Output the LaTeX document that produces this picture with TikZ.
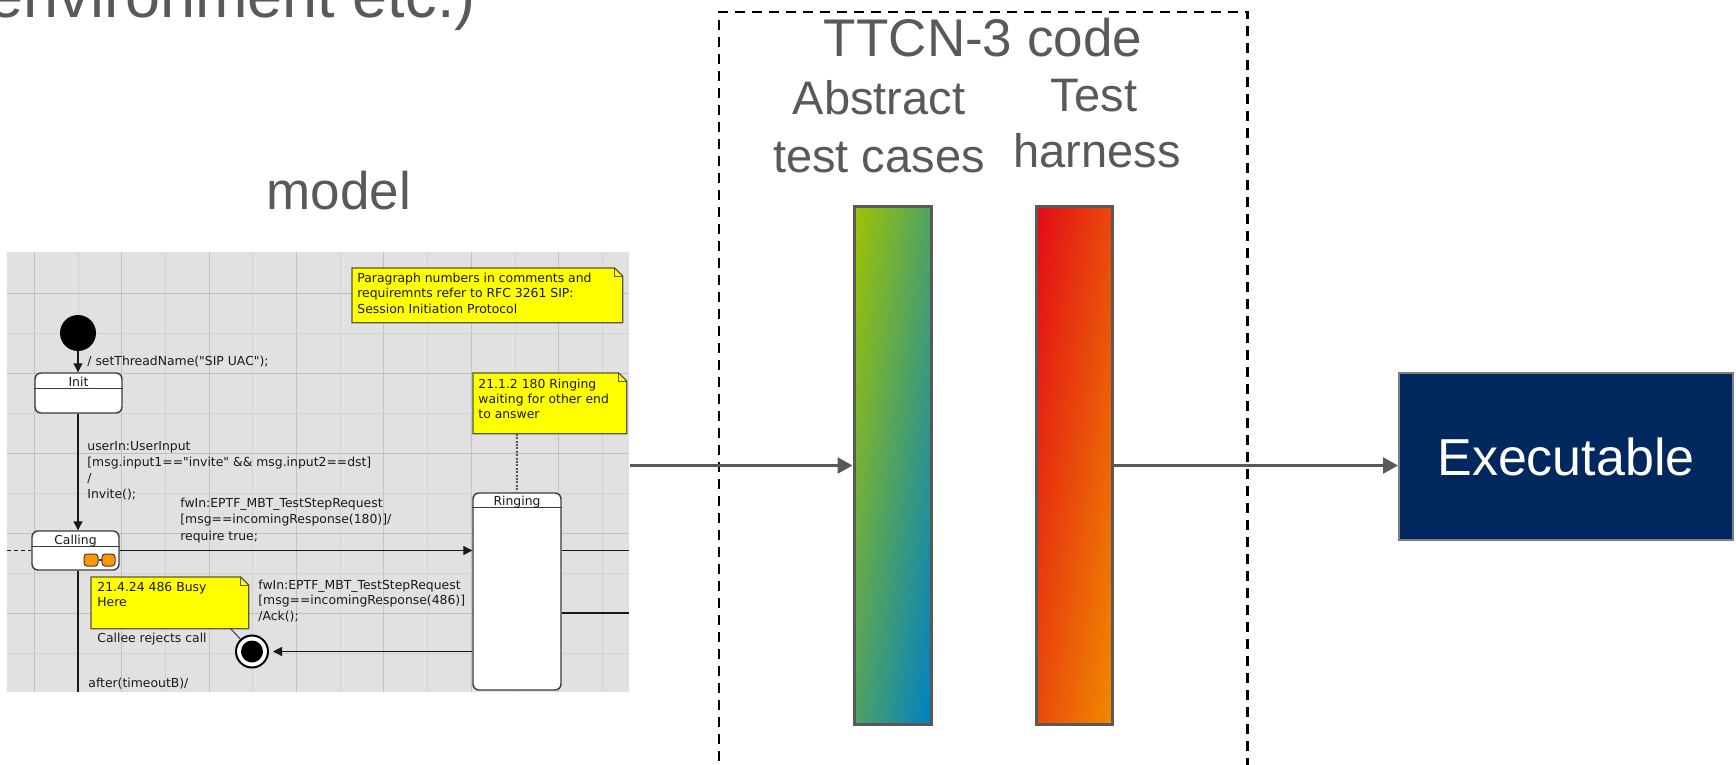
\documentclass[tikz,border=0pt]{standalone}
\usepackage{fontspec}
\setmainfont{Liberation Sans}
\newfontfamily\umlfont{DejaVu Sans}
\usetikzlibrary{arrows.meta}

\definecolor{txtgrey}{RGB}{89,89,89}
\definecolor{navy}{RGB}{0,40,94}
\definecolor{shotbg}{RGB}{225,225,225}
\definecolor{gridmaj}{RGB}{192,192,192}
\definecolor{gridmin}{RGB}{210,210,210}
\definecolor{noteyel}{RGB}{255,255,0}
\definecolor{noteedge}{RGB}{90,90,40}
\definecolor{umlink}{RGB}{25,25,25}
\definecolor{stateedge}{RGB}{60,60,60}
\definecolor{orangeicon}{RGB}{255,150,0}
\definecolor{atcA}{RGB}{160,196,0}
\definecolor{atcB}{RGB}{0,128,196}
\definecolor{thA}{RGB}{227,10,23}
\definecolor{thB}{RGB}{240,138,0}

% diagonal gradient (top-left -> bottom-right) built from thin horizontal bands
% #1,#2: left/right x, #3,#4: top/bottom y, #5,#6: start/end colours
\newcommand{\diagfill}[6]{%
  \foreach \i in {0,...,63}{%
    \pgfmathsetmacro\ya{#3+(#4-#3)/64*\i}%
    \pgfmathsetmacro\yb{#3+(#4-#3)/64*(\i+1)+0.8}%
    \pgfmathsetmacro\pl{100-50*(\i+0.5)/64}%
    \pgfmathsetmacro\pr{50-50*(\i+0.5)/64}%
    \shade[left color=#5!\pl!#6, right color=#5!\pr!#6] (#1,\ya) rectangle (#2,\yb);
  }%
}

\begin{document}
\begin{tikzpicture}[x=0.5pt,y=-0.5pt,
  slidetext/.style={text=txtgrey, inner sep=0pt},
  bigfont/.style={font=\fontsize{26.5}{31}\selectfont},
  labfont/.style={font=\fontsize{23.5}{28}\selectfont},
  umltxt/.style={font=\umlfont\fontsize{6.2}{7.75}\selectfont, text=umlink, inner sep=0pt, anchor=base west},
  umllabel/.style={font=\umlfont\fontsize{6.2}{7.75}\selectfont, text=umlink, inner sep=0pt, anchor=base},
  umlstate/.style={draw=stateedge, fill=white, line width=0.7pt, rounded corners=3pt, inner sep=0pt},
  umlline/.style={draw=umlink, line width=0.6pt},
  umlarrow/.style={umlline, -{Triangle[length=4.5pt,width=4.5pt]}},
  notearea/.style={inner sep=0pt, anchor=north west},
  noteshape/.style={fill=noteyel, draw=noteedge, line width=0.6pt},
  bigarrow/.style={draw=txtgrey, line width=1.35pt, -{Triangle[length=7.5pt,width=8pt]}},
  codebar/.style={draw=txtgrey, line width=1.5pt, inner sep=0pt, minimum width=38.5pt, minimum height=258.5pt}
]
\useasboundingbox (0,0) rectangle (1736,765);

% ---------- slide headings ----------
\node[slidetext, font=\fontsize{31.5}{36}\selectfont, anchor=base east] (envtxt) at (476,18) {environment etc.)};
\node[slidetext, bigfont, anchor=base] (modeltxt) at (339,209) {model};

% ---------- state machine screenshot ----------
\node[fill=shotbg, minimum width=311pt, minimum height=220pt, inner sep=0pt, anchor=north west] (shot) at (7,252) {};
\begin{scope}
  \clip (shot.north west) rectangle (shot.south east);
  \foreach \k in {0,...,13}{
    \ifodd\k \def\gc{gridmin}\else\def\gc{gridmaj}\fi
    \draw[\gc, line width=0.5pt] ({34.3+43.7*\k},252) -- ({34.3+43.7*\k},692);
  }
  \foreach \j in {0,...,9}{
    \ifodd\j \def\gc{gridmin}\else\def\gc{gridmaj}\fi
    \draw[\gc, line width=0.5pt] (7,{293+40*\j}) -- (629,{293+40*\j});
  }
\end{scope}

% notes with folded corner
\node[notearea, minimum width=135pt, minimum height=27pt] (note1) at (352,268) {};
\node[notearea, minimum width=76.5pt, minimum height=30pt] (note2) at (473,373) {};
\node[notearea, minimum width=78.5pt, minimum height=25.5pt] (note3) at (91,577) {};
\foreach \n in {note1,note2,note3}{
  \path[noteshape] (\n.north west) -- ([xshift=-4pt]\n.north east) -- ([yshift=-4pt]\n.north east)
     -- (\n.south east) -- (\n.south west) -- cycle;
  \draw[noteedge, line width=0.5pt] ([xshift=-4pt]\n.north east) -- ([xshift=-4pt,yshift=-4pt]\n.north east)
     -- ([yshift=-4pt]\n.north east);
}

% states
\node[circle, fill=black, minimum size=18pt, inner sep=0pt] (start) at (78,333) {};
\node[umlstate, minimum width=43.5pt, minimum height=20pt] (sInit) at (78.5,393) {};
\node[umlstate, minimum width=43.5pt, minimum height=19.5pt] (sCalling) at (75.5,550.5) {};
\node[umlstate, minimum width=44pt, minimum height=98.5pt] (sRinging) at (517,591.5) {};
\node[circle, draw=black, fill=white, line width=1pt, minimum size=16pt, inner sep=0pt] (final) at (252,651.5) {};
\node[circle, fill=black, minimum size=11pt, inner sep=0pt] (finalin) at (final.center) {};

% state headers
\draw[stateedge, line width=0.6pt] ([yshift=-8pt]sInit.north west) -- ([yshift=-8pt]sInit.north east);
\draw[stateedge, line width=0.6pt] ([yshift=-8pt]sCalling.north west) -- ([yshift=-8pt]sCalling.north east);
\draw[stateedge, line width=0.6pt] ([yshift=-7.5pt]sRinging.north west) -- ([yshift=-7.5pt]sRinging.north east);
\node[umllabel] (lInit) at (78.5,386.5) {Init};
\node[umllabel] (lCalling) at (75.5,544) {Calling};
\node[umllabel] (lRinging) at (517,505.5) {Ringing};

% sub-machine icon of Calling
\node[draw=stateedge, fill=orangeicon, line width=0.5pt, rounded corners=1.5pt, minimum width=7pt, minimum height=6pt, inner sep=0pt] (icoA) at (91,560) {};
\node[draw=stateedge, fill=orangeicon, line width=0.5pt, rounded corners=1.5pt, minimum width=6.5pt, minimum height=6pt, inner sep=0pt] (icoB) at (108.5,560) {};
\draw[stateedge, line width=0.6pt] (icoA) -- (icoB);

% transitions
\coordinate (leftin) at (7,550.5);
\coordinate (callbot) at (78,692);
\coordinate (rout1) at (629,550.5);
\coordinate (rout2) at (629,613);
\coordinate (n3tail) at (230,628);
\draw[umlarrow] (start.south) -- (start.south |- sInit.north);
\draw[umlarrow] (sInit.south -| callbot) -- (callbot |- sCalling.north);
\draw[umlline, dashed, dash pattern=on 2pt off 1.5pt] (leftin) -- (sCalling.west);
\draw[umlarrow] (sCalling.east) -- (sCalling.east -| sRinging.west);
\draw[umlline] (callbot |- sCalling.south) -- (callbot);
\draw[umlline] (rout1 -| sRinging.east) -- (rout1);
\draw[umlline] (rout2 -| sRinging.east) -- (rout2);
\draw[umlarrow, shorten >=2pt] (sRinging.west |- final.center) -- (final.east);
\draw[black!65, line width=0.55pt, dash pattern=on 1pt off 0.7pt] (note2.south -| sRinging.north) -- (sRinging.north);
\draw[stateedge, line width=0.5pt] (n3tail) -- (final);

% transition and note texts
\node[umltxt] (tr0) at (87,365) {/ setThreadName("SIP UAC");};
\node[umltxt] (tr1a) at (87,450) {userIn:UserInput};
\node[umltxt] (tr1b) at (87,466) {[msg.input1=="invite" \&\& msg.input2==dst]};
\node[umltxt] (tr1c) at (87,482) {/};
\node[umltxt] (tr1d) at (87,498) {Invite();};
\node[umltxt] (tr2a) at (180,507) {fwIn:EPTF\_MBT\_TestStepRequest};
\node[umltxt] (tr2b) at (180,523) {[msg==incomingResponse(180)]/};
\node[umltxt] (tr2c) at (180,540) {require true;};
\node[umltxt] (tr3a) at (258,589) {fwIn:EPTF\_MBT\_TestStepRequest};
\node[umltxt] (tr3b) at (258,604) {[msg==incomingResponse(486)]};
\node[umltxt] (tr3c) at (258,620) {/Ack();};
\node[umltxt] (tr4) at (97,642) {Callee rejects call};
\node[umltxt] (tr5) at (88,687) {after(timeoutB)/};
\node[umltxt] (nt1a) at (357,282) {Paragraph numbers in comments and};
\node[umltxt] (nt1b) at (357,297.5) {requiremnts refer to RFC 3261 SIP:};
\node[umltxt] (nt1c) at (357,313) {Session Initiation Protocol};
\node[umltxt] (nt2a) at (478,388) {21.1.2 180 Ringing};
\node[umltxt] (nt2b) at (478,403) {waiting for other end};
\node[umltxt] (nt2c) at (478,418) {to answer};
\node[umltxt] (nt3a) at (97,591) {21.4.24 486 Busy};
\node[umltxt] (nt3b) at (97,606) {Here};

% ---------- TTCN-3 code box ----------
\node[draw=black, dashed, dash pattern=on 5pt off 3.5pt, line width=1.25pt, minimum width=264.25pt, minimum height=394pt, inner sep=0pt] (ttcn) at (983.25,406) {};
\node[slidetext, bigfont, anchor=base] (ttcntxt) at (983,57) {TTCN-3 code};
\node[slidetext, labfont, anchor=base] (atc1) at (879,115) {Abstract};
\node[slidetext, labfont, anchor=base] (atc2) at (879,172) {test cases};
\node[slidetext, labfont, anchor=base] (th1) at (1094,112) {Test};
\node[slidetext, labfont, anchor=base] (th2) at (1097,168) {harness};

% gradient bars: colour fill first, then the outlined nodes on top
\diagfill{854}{931}{207}{724}{atcA}{atcB}
\diagfill{1036}{1112}{207}{724}{thA}{thB}
\node[codebar] (barA) at (892.5,465.5) {};
\node[codebar, minimum width=38pt] (barB) at (1074,465.5) {};

% ---------- executable ----------
\node[draw=gray, fill=navy, line width=1pt, minimum width=167pt, minimum height=83.5pt, inner sep=0pt,
      text=white, font=\fontsize{26}{31}\selectfont] (exe) at (1566,456.5) {Executable};

% ---------- flow ----------
\draw[bigarrow] (shot.east |- barA.west) -- (barA.west);
\draw[bigarrow] (barB.east) -- (barB.east -| exe.west);
\end{tikzpicture}
\end{document}
